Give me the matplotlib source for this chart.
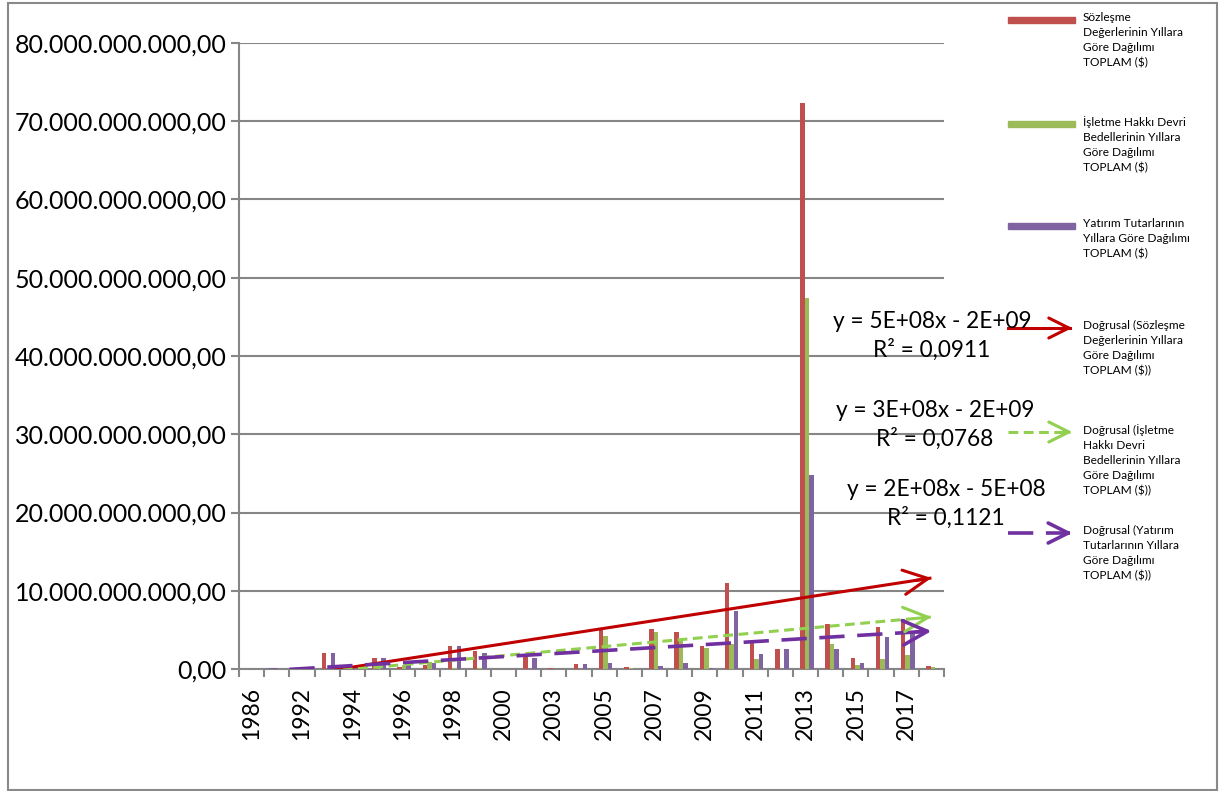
import numpy as np
import matplotlib
matplotlib.use("Agg")
import matplotlib.pyplot as plt
from matplotlib.patches import Rectangle, FancyArrowPatch
from matplotlib.lines import Line2D
from matplotlib.ticker import FuncFormatter

plt.rcParams['font.family'] = ['Lato', 'DejaVu Sans']

# categories (years); labels shown on every other category
years = ['1986', '1990', '1992', '1993', '1994', '1995', '1996', '1997', '1998', '1999',
         '2000', '2002', '2003', '2004', '2005', '2006', '2007', '2008', '2009', '2010',
         '2011', '2012', '2013', '2014', '2015', '2016', '2017', '2018']

# values in billions of $
sozlesme = [0.02, 0.0, 0.05, 2.08, 0.1, 1.37, 0.3, 0.5, 2.94, 2.34,
            0.0, 1.57, 0.1, 0.6, 5.2, 0.2, 5.1, 4.77, 2.94, 10.95,
            3.28, 2.56, 72.3, 5.75, 1.37, 5.4, 6.35, 0.38]
isletme = [0.0, 0.0, 0.0, 0.0, 0.05, 0.3, 0.5, 0.9, 0.1, 0.1,
           0.0, 0.0, 0.0, 0.0, 4.22, 0.1, 4.77, 3.8, 2.64, 3.2,
           1.28, 0.0, 47.4, 3.15, 0.5, 1.23, 1.79, 0.3]
yatirim = [0.03, 0.0, 0.05, 2.08, 0.1, 1.37, 0.9, 0.75, 2.94, 2.04,
           0.0, 1.45, 0.0, 0.6, 0.73, 0.0, 0.38, 0.73, 0.15, 7.45,
           1.92, 2.56, 24.8, 2.56, 0.73, 4.13, 4.77, 0.0]

series_names = ['Sözleşme\nDeğerlerinin Yıllara\nGöre Dağılımı\nTOPLAM ($)',
                'İşletme Hakkı Devri\nBedellerinin Yıllara\nGöre Dağılımı\nTOPLAM ($)',
                'Yatırım Tutarlarının\nYıllara Göre Dağılımı\nTOPLAM ($)']
trend_names = ['Doğrusal (Sözleşme\nDeğerlerinin Yıllara\nGöre Dağılımı\nTOPLAM ($))',
               'Doğrusal (İşletme\nHakkı Devri\nBedellerinin Yıllara\nGöre Dağılımı\nTOPLAM ($))',
               'Doğrusal (Yatırım\nTutarlarının Yıllara\nGöre Dağılımı\nTOPLAM ($))']
equations = ['y = 5E+08x - 2E+09\nR² = 0,0911',
             'y = 3E+08x - 2E+09\nR² = 0,0768',
             'y = 2E+08x - 5E+08\nR² = 0,1121']

bar_colors = ['#C0504D', '#9BBB59', '#8064A2']
trend_colors = ['#C00000', '#92D050', '#7030A0']
trend_dashes = [None, (3.2, 1.8), (7, 3.5)]
trend_widths = [2.2, 2.2, 2.6]

W, H = 1219, 791
fig = plt.figure(figsize=(W / 100, H / 100), dpi=100)
ax = fig.add_axes([239 / W, 1 - 669 / H, 705 / W, 626 / H])

x = np.arange(len(years))
bw = 0.18
data = [np.array(s) * 1e9 for s in (sozlesme, isletme, yatirim)]
for i, (vals, c) in enumerate(zip(data, bar_colors)):
    ax.bar(x + 0.06 + (i - 1) * bw, vals, width=bw, color=c, zorder=3)

# linear trend lines (Excel style x = 1..n)
xn = x + 1
for i, vals in enumerate(data):
    k, b = np.polyfit(xn, vals, 1)
    yt = k * xn + b
    ln, = ax.plot(x, yt, color=trend_colors[i], lw=trend_widths[i], zorder=4,
                  solid_capstyle='butt')
    if trend_dashes[i] is not None:
        ln.set_dashes(trend_dashes[i])
    ax.annotate('', xy=(x[-1], yt[-1]), xytext=(x[-1] - 0.6, k * (xn[-1] - 0.6) + b),
                arrowprops=dict(arrowstyle='->,head_length=0.8,head_width=0.4',
                                color=trend_colors[i], lw=trend_widths[i],
                                shrinkA=0, shrinkB=0, mutation_scale=22), zorder=5)

ax.set_xlim(-0.5, len(years) - 0.5)
ax.set_ylim(0, 80e9)
ax.set_yticks(np.arange(0, 80e9 + 1, 10e9))


def tr_fmt(v, pos):
    s = f"{v:,.2f}"
    return s.replace(',', 'X').replace('.', ',').replace('X', '.')


ax.yaxis.set_major_formatter(FuncFormatter(tr_fmt))
ax.set_xticks(x[::2])
ax.set_xticklabels(years[::2], rotation=90)
ax.set_xticks(np.arange(-0.5, len(years)), minor=True)

grey = '#868686'
ax.grid(axis='y', color=grey, lw=1.5, zorder=0)
for s in ('top', 'right'):
    ax.spines[s].set_visible(False)
for s in ('left', 'bottom'):
    ax.spines[s].set_color(grey)
    ax.spines[s].set_linewidth(1.5)
ax.tick_params(axis='y', length=6, width=1.5, color=grey, labelsize=18, pad=3)
ax.tick_params(axis='x', which='major', length=0, labelsize=16.5, pad=13)
ax.tick_params(axis='x', which='minor', length=6, width=1.5, color=grey)

# regression equations
eq_pos = [(932, 336), (935, 425), (946, 504)]
for (ex, ey), txt in zip(eq_pos, equations):
    fig.text(ex / W, 1 - ey / H, txt, ha='center', va='center', fontsize=16.3,
             linespacing=1.35)

# legend drawn on the right side
leg_y = [20, 124, 226]
for yy, c, name in zip(leg_y, bar_colors, series_names):
    fig.add_artist(Rectangle((1008 / W, 1 - (yy + 3) / H), 67 / W, 6 / H,
                             transform=fig.transFigure, color=c))
    fig.text(1083 / W, 1 - (yy - 8) / H, name, ha='left', va='top', fontsize=8.6,
             linespacing=1.45)

leg_y2 = [328, 432, 533]
for i, (yy, name) in enumerate(zip(leg_y2, trend_names)):
    ln = Line2D([1008 / W, 1070 / W], [1 - yy / H] * 2, transform=fig.transFigure,
                color=trend_colors[i], lw=trend_widths[i])
    if trend_dashes[i] is not None:
        ln.set_dashes(trend_dashes[i])
    fig.add_artist(ln)
    fig.add_artist(FancyArrowPatch((1060 / W, 1 - yy / H), (1075 / W, 1 - yy / H),
                                   transform=fig.transFigure,
                                   arrowstyle='->,head_length=0.9,head_width=0.45',
                                   color=trend_colors[i], lw=trend_widths[i],
                                   mutation_scale=16))
    fig.text(1083 / W, 1 - (yy - 8) / H, name, ha='left', va='top', fontsize=8.6,
             linespacing=1.45)

# outer chart border
fig.add_artist(Rectangle((8 / W, 1 / H), 1209 / W, 787 / H, transform=fig.transFigure,
                         fill=False, edgecolor='#898989', lw=1.5))

fig.savefig('out.png', dpi=100)
